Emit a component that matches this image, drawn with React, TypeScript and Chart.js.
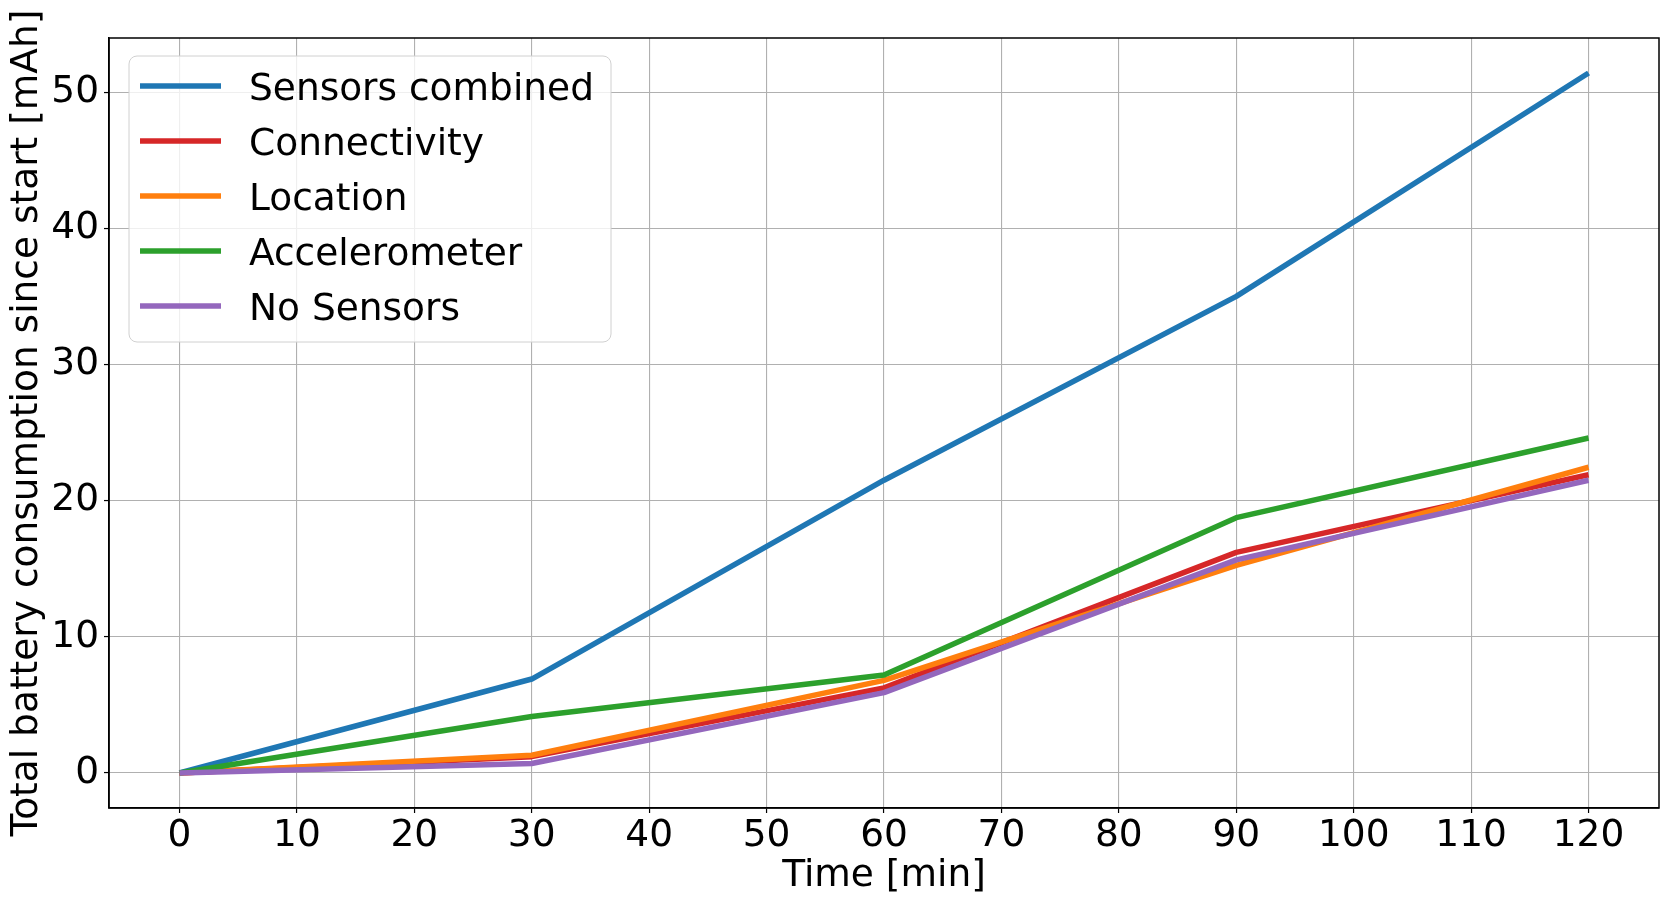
import React, { useEffect, useRef } from 'react';
import Chart from 'chart.js/auto';

// minutes since start
const timeMin = [0, 30, 60, 90, 120];

const seriesNames = ['Sensors combined', 'Connectivity', 'Location', 'Accelerometer', 'No Sensors'];
const seriesColors = ['#1f77b4', '#d62728', '#ff7f0e', '#2ca02c', '#9467bd'];

const sensorsCombined = [0, 6.9, 21.5, 35.0, 51.4];
const connectivity = [0, 1.2, 6.25, 16.2, 21.9];
const location = [0, 1.3, 6.8, 15.25, 22.45];
const accelerometer = [0, 4.15, 7.2, 18.75, 24.6];
const noSensors = [0, 0.7, 5.9, 15.65, 21.5];

const xTicks = [0, 10, 20, 30, 40, 50, 60, 70, 80, 90, 100, 110, 120];
const yTicks = [0, 10, 20, 30, 40, 50];

const FONT = 'DejaVu Sans';
const FONT_SIZE = 37.5;

const allSeries = [sensorsCombined, connectivity, location, accelerometer, noSensors];

// full box round the plot area, like matplotlib
const frame = {
  id: 'frame',
  afterDatasetsDraw(chart: any) {
    const { ctx, chartArea: a } = chart;
    ctx.save();
    ctx.strokeStyle = '#000';
    ctx.lineWidth = 1.5;
    ctx.strokeRect(a.left, a.top, a.right - a.left, a.bottom - a.top);
    ctx.restore();
  },
};

// legend box inside the axes, upper left
const innerLegend = {
  id: 'innerLegend',
  afterDraw(chart: any) {
    const { ctx } = chart;
    const x0 = 129, y0 = 56, w = 482, h = 286, r = 8;
    ctx.save();
    ctx.beginPath();
    ctx.roundRect(x0, y0, w, h, r);
    ctx.fillStyle = 'rgba(255,255,255,0.8)';
    ctx.fill();
    ctx.strokeStyle = '#d0d0d0';
    ctx.lineWidth = 1;
    ctx.stroke();
    ctx.font = `${FONT_SIZE}px "${FONT}"`;
    ctx.textBaseline = 'alphabetic';
    ctx.textAlign = 'left';
    seriesNames.forEach((name, i) => {
      const y = 86 + i * 55;
      ctx.beginPath();
      ctx.moveTo(140, y);
      ctx.lineTo(221, y);
      ctx.strokeStyle = seriesColors[i];
      ctx.lineWidth = 5.5;
      ctx.stroke();
      ctx.fillStyle = '#000';
      ctx.fillText(name, 249, y + 13.5);
    });
    ctx.restore();
  },
};

const BatteryChart: React.FC = () => {
  const canvasRef = useRef<HTMLCanvasElement | null>(null);
  const chartRef = useRef<Chart | null>(null);

  useEffect(() => {
    document.body.style.margin = '0';
    if (!canvasRef.current) return;
    if (chartRef.current) chartRef.current.destroy();
    const ctx = canvasRef.current.getContext('2d');
    if (!ctx) return;

    chartRef.current = new Chart(ctx, {
      type: 'line',
      data: {
        datasets: seriesNames.map((name, i) => ({
          label: name,
          data: timeMin.map((t, j) => ({ x: t, y: allSeries[i][j] })),
          borderColor: seriesColors[i],
          backgroundColor: seriesColors[i],
          borderWidth: 5.5,
          borderJoinStyle: 'round',
          pointRadius: 0,
          tension: 0,
          order: seriesNames.length - i, // later series on top
        })),
      },
      options: {
        animation: false,
        responsive: false,
        devicePixelRatio: 1,
        layout: { padding: { left: 0, right: 10, top: 38, bottom: 0 } },
        plugins: {
          legend: { display: false },
          tooltip: { enabled: false },
        },
        scales: {
          x: {
            type: 'linear',
            min: -6,
            max: 126,
            afterBuildTicks: (axis: any) => {
              axis.ticks = xTicks.map((v) => ({ value: v }));
            },
            afterFit: (scale: any) => {
              scale.height = 97;
            },
            grid: { color: '#b0b0b0', lineWidth: 1.1, tickLength: 5, tickColor: '#000', tickWidth: 1.2 },
            border: { color: '#000', width: 1.5 },
            ticks: { color: '#000', font: { family: FONT, size: FONT_SIZE }, padding: 1, maxRotation: 0 },
            title: {
              display: true,
              text: 'Time [min]',
              color: '#000',
              font: { family: FONT, size: FONT_SIZE },
              padding: { top: 0, bottom: 6 },
            },
          },
          y: {
            type: 'linear',
            min: -2.57,
            max: 53.97,
            afterBuildTicks: (axis: any) => {
              axis.ticks = yTicks.map((v) => ({ value: v }));
            },
            afterFit: (scale: any) => {
              scale.width = 109;
            },
            grid: { color: '#b0b0b0', lineWidth: 1.1, tickLength: 5, tickColor: '#000', tickWidth: 1.2 },
            border: { color: '#000', width: 1.5 },
            ticks: { color: '#000', font: { family: FONT, size: FONT_SIZE }, padding: 5 },
            title: {
              display: true,
              text: 'Total battery consumption since start [mAh]',
              color: '#000',
              font: { family: FONT, size: FONT_SIZE },
              padding: { top: 5, bottom: 0 },
            },
          },
        },
      },
      plugins: [frame, innerLegend],
    });

    return () => {
      if (chartRef.current) {
        chartRef.current.destroy();
        chartRef.current = null;
      }
    };
  }, []);

  return (
    <div style={{ width: 1669, height: 905, background: '#fff' }}>
      <canvas ref={canvasRef} width={1669} height={905} style={{ width: 1669, height: 905 }} />
    </div>
  );
};

export default function App() {
  return <BatteryChart />;
}
